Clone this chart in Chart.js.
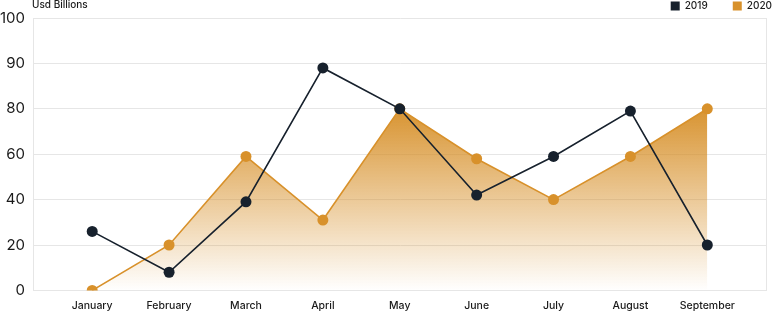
<!DOCTYPE html>
<html>
<head>
<meta charset="utf-8">
<script src="https://cdn.jsdelivr.net/npm/chart.js@4.4.1/dist/chart.umd.min.js"></script>
<style>
  html, body { margin: 0; padding: 0; background: #fff; }
  #wrap { width: 772px; height: 312px; }
</style>
</head>
<body>
<div id="wrap"><canvas id="chart"></canvas></div>
<script>
'use strict';

var months = ['January', 'February', 'March', 'April', 'May', 'June', 'July', 'August', 'September'];
var sales2019 = [26, 8, 39, 89, 80, 42, 59, 79, 20];
var sales2020 = [0, 20, 59, 31, 80, 58, 40, 59, 80];
// the y axis is spaced evenly per tick, not per value
var yTicks = [0, 20, 40, 60, 80, 90, 100];

var navy = '#17212d';
var orange = '#d8912b';
var gridColor = '#e6e6e6';

// linear scale that spaces the given ticks evenly and interpolates between them
class SegmentScale extends Chart.LinearScale {
  getPixelForValue(value) {
    if (value === null || value === undefined) return NaN;
    var t = yTicks;
    var i = 0;
    while (i < t.length - 2 && value > t[i + 1]) i++;
    var dec = (i + (value - t[i]) / (t[i + 1] - t[i])) / (t.length - 1);
    return this.getPixelForDecimal(dec);
  }
  getValueForPixel(pixel) {
    var t = yTicks;
    var pos = this.getDecimalForPixel(pixel) * (t.length - 1);
    var i = Math.max(0, Math.min(t.length - 2, Math.floor(pos)));
    return t[i] + (pos - i) * (t[i + 1] - t[i]);
  }
}
SegmentScale.id = 'segment';
SegmentScale.defaults = Chart.LinearScale.defaults;
Chart.register(SegmentScale);

function toPoints(values) {
  var points = [];
  for (var i = 0; i < values.length; i++) {
    points.push({x: i, y: values[i]});
  }
  return points;
}

function areaFill(context) {
  var chart = context.chart;
  var area = chart.chartArea;
  if (!area) return 'rgba(216,145,43,0.5)';
  var top = chart.scales.y.getPixelForValue(80);
  var g = chart.ctx.createLinearGradient(0, top, 0, area.bottom);
  g.addColorStop(0, 'rgba(214,142,38,0.95)');
  g.addColorStop(1, 'rgba(214,142,38,0)');
  return g;
}

var unitTitle = {
  id: 'unitTitle',
  afterDraw: function(chart) {
    var c = chart.ctx;
    c.save();
    c.fillStyle = '#1a1a1a';
    c.font = '500 10px Inter';
    c.textBaseline = 'middle';
    c.textAlign = 'left';
    c.fillText('Usd Billions', chart.chartArea.left - 1, 5);
    c.restore();
  }
};

var ctx = document.getElementById('chart').getContext('2d');

var chart = new Chart(ctx, {
  type: 'line',
  data: {
    datasets: [{
      label: '2019',
      data: toPoints(sales2019),
      borderColor: navy,
      backgroundColor: navy,
      borderWidth: 1.6,
      pointRadius: 5.5,
      pointBorderWidth: 0,
      pointBackgroundColor: navy,
      fill: false,
      order: 0
    }, {
      label: '2020',
      data: toPoints(sales2020),
      borderColor: orange,
      backgroundColor: areaFill,
      borderWidth: 1.6,
      pointRadius: 5.5,
      pointBorderWidth: 0,
      pointBackgroundColor: orange,
      fill: 'origin',
      order: 1
    }]
  },
  options: {
    responsive: true,
    maintainAspectRatio: false,
    animation: false,
    layout: {
      padding: {top: -24, right: -25, bottom: -9, left: 0}
    },
    plugins: {
      tooltip: {enabled: false},
      legend: {
        position: 'top',
        align: 'end',
        maxHeight: 42,
        labels: {
          boxWidth: 9,
          boxHeight: 9,
          padding: 25,
          color: '#1a1a1a',
          font: {family: 'Inter', size: 10, weight: 500},
          generateLabels: function(chart) {
            var items = Chart.defaults.plugins.legend.labels.generateLabels(chart);
            items.forEach(function(item) {
              item.fillStyle = item.datasetIndex === 0 ? navy : orange;
              item.strokeStyle = item.fillStyle;
              item.lineWidth = 0;
            });
            return items;
          }
        }
      }
    },
    scales: {
      x: {
        type: 'linear',
        min: -0.77,
        max: 8.77,
        afterBuildTicks: function(scale) {
          scale.ticks = months.map(function(m, i) { return {value: i}; });
        },
        grid: {display: false, drawTicks: false},
        border: {display: true, color: gridColor},
        ticks: {
          autoSkip: false,
          maxRotation: 0,
          padding: 9,
          color: '#1a1a1a',
          font: {family: 'Inter', size: 10.5, weight: 500},
          callback: function(value) { return months[value]; }
        }
      },
      y: {
        type: 'segment',
        min: 0,
        max: 100,
        afterBuildTicks: function(scale) {
          scale.ticks = yTicks.map(function(v) { return {value: v}; });
        },
        afterFit: function(scale) { scale.width = 33; },
        grid: {color: gridColor, drawTicks: false},
        border: {display: true, color: gridColor},
        ticks: {
          padding: 8,
          color: '#1a1a1a',
          font: {family: 'Inter', size: 15}
        }
      },
      // empty right axis: only its border closes the frame on the right
      yRight: {
        type: 'linear',
        position: 'right',
        grid: {display: false, drawTicks: false},
        border: {display: true, color: gridColor},
        ticks: {display: false},
        afterFit: function(scale) { scale.width = 27; }
      }
    }
  },
  plugins: [unitTitle]
});
</script>
</body>
</html>
